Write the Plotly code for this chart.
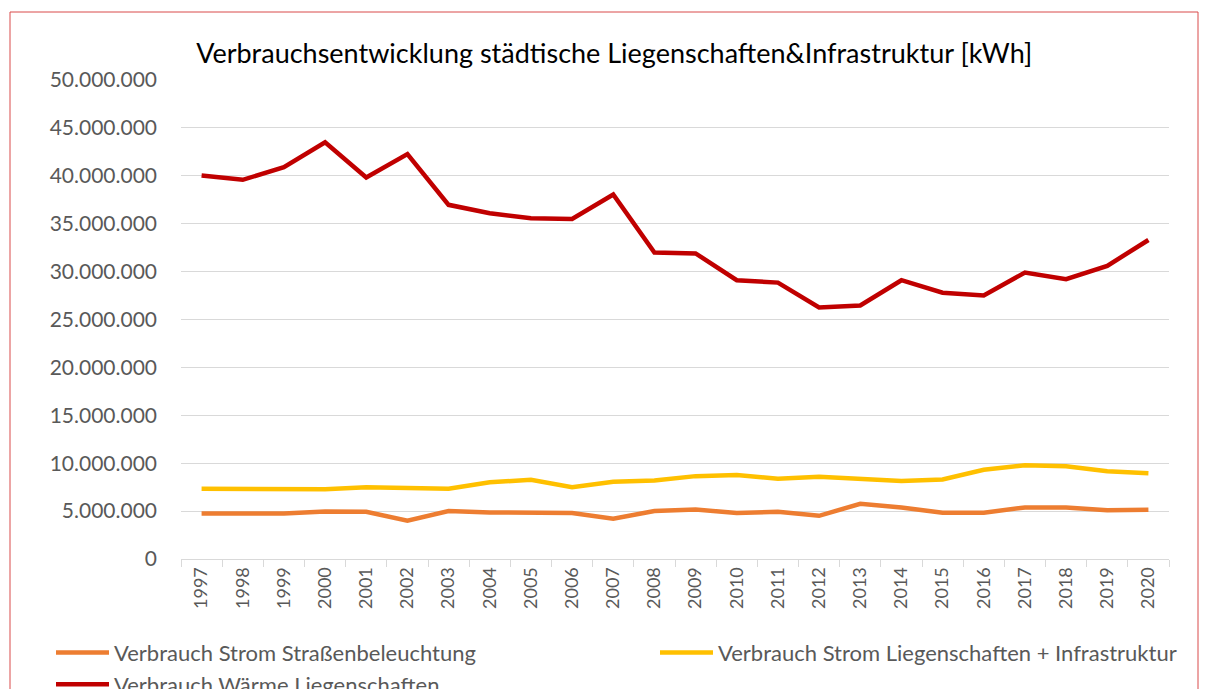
import plotly.graph_objects as go

years = [str(y) for y in range(1997, 2021)]

strom_strasse = [4.76, 4.72, 4.76, 4.97, 4.93, 4.00, 5.00, 4.86, 4.86, 4.79, 4.20, 5.00,
                 5.17, 4.79, 4.93, 4.51, 5.76, 5.38, 4.83, 4.83, 5.38, 5.38, 5.10, 5.14]
strom_lieg = [7.33, 7.29, 7.29, 7.29, 7.50, 7.47, 7.33, 8.02, 8.26, 7.50, 8.06, 8.20,
              8.65, 8.78, 8.37, 8.58, 8.30, 8.13, 8.30, 9.31, 9.79, 9.69, 9.17, 8.96]
waerme_lieg = [40.03, 39.58, 40.90, 43.50, 39.83, 42.26, 36.97, 36.10, 35.57, 35.50, 38.05, 31.99,
               31.90, 29.10, 28.85, 26.25, 26.46, 29.10, 27.80, 27.50, 29.90, 29.20, 30.60, 33.30]

names = ["Verbrauch Strom Straßenbeleuchtung",
         "Verbrauch Strom Liegenschaften + Infrastruktur",
         "Verbrauch Wärme Liegenschaften"]
colors = ["#ED7D31", "#FFC000", "#C00000"]
legends = ["legend", "legend2", "legend"]
series = [strom_strasse, strom_lieg, waerme_lieg]

y_ticks = [0, 5e6, 10e6, 15e6, 20e6, 25e6, 30e6, 35e6, 40e6, 45e6, 50e6]
title_text = "Verbrauchsentwicklung städtische Liegenschaften&Infrastruktur [kWh]"

fig = go.Figure()
for name, col, lg, vals in zip(names, colors, legends, series):
    fig.add_trace(go.Scatter(
        x=years, y=[v * 1e6 for v in vals], name=name, mode="lines",
        line=dict(color=col, width=4.5), legend=lg,
    ))

font_family = "Lato, 'Open Sans', sans-serif"
leg_common = dict(orientation="v", yanchor="top", y=-0.152, xanchor="left",
                  itemwidth=53, font=dict(size=22, color="#595959"),
                  tracegroupgap=0, bgcolor="rgba(0,0,0,0)")
fig.update_layout(
    width=1209, height=689,
    margin=dict(l=181, r=40, t=80, b=130, autoexpand=False),
    paper_bgcolor="white", plot_bgcolor="white",
    separators=",.",
    title=dict(text=title_text, x=0.508, xanchor="center", y=0.923, yanchor="middle",
               font=dict(family=font_family, size=27, color="#000000")),
    font=dict(family=font_family, color="#595959"),
    showlegend=True,
    legend=dict(x=(51 - 181) / 988, **leg_common),
    legend2=dict(x=(655 - 181) / 988, **leg_common),
    xaxis=dict(type="category", range=[-0.5, 23.5], tickangle=-90,
               tickfont=dict(size=18, color="#595959"),
               showgrid=False, showline=True, linecolor="#D9D9D9", linewidth=1,
               ticks="outside", tickson="boundaries", ticklen=7, tickcolor="#D9D9D9"),
    yaxis=dict(range=[0, 50e6], tickvals=y_ticks, tickformat=",d",
               tickfont=dict(size=21, color="#595959"),
               showgrid=True, gridcolor="#D9D9D9", gridwidth=1,
               zeroline=False, showline=False, ticks="", ticklabelstandoff=23),
    shapes=[dict(type="rect", xref="paper", yref="paper",
                 x0=(10 - 181) / 988, x1=(1198 - 181) / 988,
                 y0=-0.5, y1=(559 - 12) / 479,
                 line=dict(color="#D94A4A", width=1), fillcolor="rgba(0,0,0,0)", layer="below")],
)

fig.write_html("out.html", config={"displayModeBar": False},
               post_script="document.body.style.margin='0';")
